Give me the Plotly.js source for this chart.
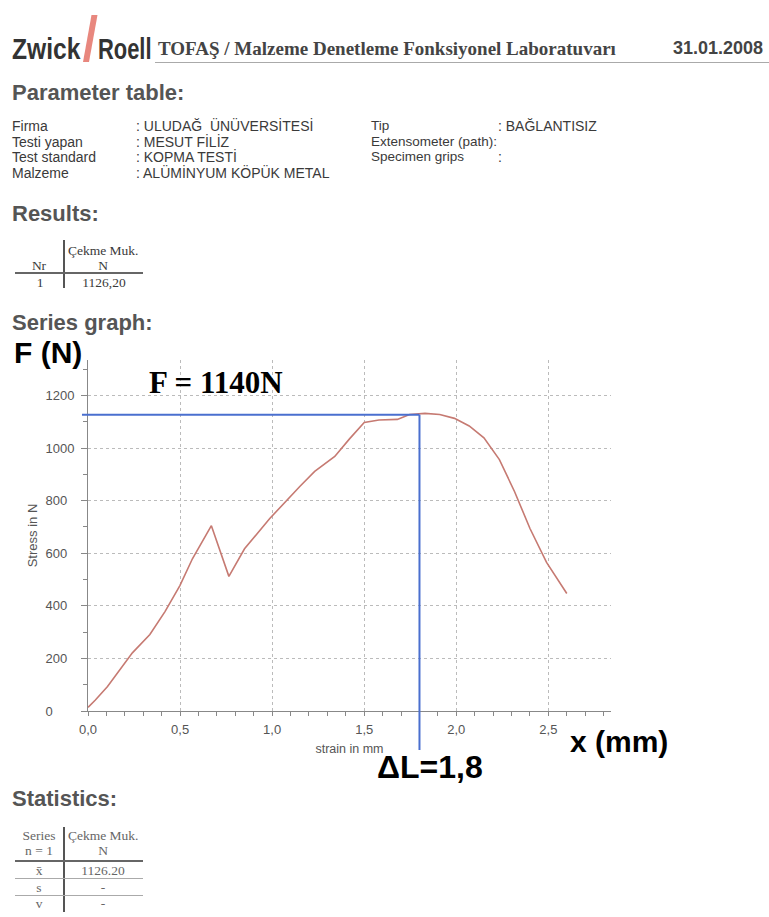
<!DOCTYPE html>
<html>
<head>
<meta charset="utf-8">
<script src="https://cdn.plot.ly/plotly-3.0.1.min.js"></script>
<style>
  html, body { margin:0; padding:0; background:#fff; }
  body { width:769px; height:917px; position:relative; overflow:hidden; }
  #chart { position:absolute; left:0; top:0; width:769px; height:917px; }
  .t { position:absolute; white-space:nowrap; }
  .sans { font-family:"Liberation Sans", Arial, sans-serif; }
  .serif { font-family:"Liberation Serif", "Times New Roman", serif; }
  .h { font-family:"Liberation Sans", Arial, sans-serif; font-weight:bold; font-size:22px; line-height:22px; color:#555; }
  .p { font-family:"Liberation Sans", Arial, sans-serif; font-size:14px; line-height:14px; color:#3a3a3a; }
  .p2 { font-family:"Liberation Sans", Arial, sans-serif; font-size:13.5px; line-height:14px; color:#3a3a3a; }
  .tb { font-family:"Liberation Serif", "Times New Roman", serif; font-size:13.5px; line-height:13.5px; color:#3a3a3a; }
  .st { font-family:"Liberation Serif", "Times New Roman", serif; font-size:13.5px; line-height:13.5px; color:#666; }
  .c { transform:translateX(-50%); }
  .ln { position:absolute; }
</style>
</head>
<body>
<div id="chart"></div>

<!-- Header -->
<div class="t sans" style="left:12px;top:34px;font-size:30px;line-height:30px;font-weight:bold;color:#333;transform:scaleX(0.82);transform-origin:left top;">Zwick</div>
<svg style="position:absolute;left:0;top:0;" width="120" height="70"><polygon points="83,62 89,62 97.5,15 91.5,15" fill="#e8877e"/></svg>
<div class="t sans" style="left:98px;top:34px;font-size:30px;line-height:30px;font-weight:bold;color:#333;transform:scaleX(0.73);transform-origin:left top;">Roell</div>
<div class="t serif" style="left:158px;top:39px;font-size:19px;line-height:19px;font-weight:bold;color:#444;">TOFAŞ / Malzeme Denetleme Fonksiyonel Laboratuvarı</div>
<div class="t sans" style="right:6px;top:39px;font-size:18px;line-height:18px;font-weight:bold;color:#444;">31.01.2008</div>
<div class="ln" style="left:155px;top:62px;width:614px;height:1px;background:#aaa;"></div>

<div class="t h" style="left:12px;top:82px;">Parameter table:</div>

<div class="t p" style="left:12px;top:119px;">Firma</div>
<div class="t p" style="left:12px;top:134.5px;">Testi yapan</div>
<div class="t p" style="left:12px;top:150px;">Test standard</div>
<div class="t p" style="left:12px;top:165.5px;">Malzeme</div>
<div class="t p" style="left:136px;top:119px;">: ULUDAĞ&nbsp; ÜNÜVERSİTESİ</div>
<div class="t p" style="left:136px;top:134.5px;">: MESUT FİLİZ</div>
<div class="t p" style="left:136px;top:150px;">: KOPMA TESTİ</div>
<div class="t p" style="left:136px;top:165.5px;">: ALÜMİNYUM KÖPÜK METAL</div>
<div class="t p2" style="left:371px;top:119px;">Tip</div>
<div class="t p2" style="left:371px;top:134.5px;">Extensometer (path):</div>
<div class="t p2" style="left:371px;top:150px;">Specimen grips</div>
<div class="t p" style="left:498px;top:119px;">: BAĞLANTISIZ</div>
<div class="t p" style="left:498px;top:150px;">:</div>

<div class="t h" style="left:12px;top:203px;">Results:</div>
<div class="ln" style="left:63px;top:240px;width:1.5px;height:48px;background:#555;"></div>
<div class="ln" style="left:15px;top:272px;width:128px;height:2px;background:#666;"></div>
<div class="t tb" style="left:68px;top:244px;">Çekme Muk.</div>
<div class="t tb c" style="left:39px;top:259px;">Nr</div>
<div class="t tb c" style="left:103px;top:259px;">N</div>
<div class="t tb c" style="left:40px;top:276px;">1</div>
<div class="t tb c" style="left:104px;top:276px;">1126,20</div>

<div class="t h" style="left:12px;top:312px;">Series graph:</div>

<div class="t h" style="left:12px;top:788px;">Statistics:</div>
<div class="ln" style="left:63px;top:827px;width:1.5px;height:85px;background:#555;"></div>
<div class="ln" style="left:15px;top:860px;width:128px;height:2px;background:#666;"></div>
<div class="ln" style="left:15px;top:878px;width:128px;height:1px;background:#aaa;"></div>
<div class="ln" style="left:15px;top:895px;width:128px;height:1px;background:#aaa;"></div>
<div class="t st c" style="left:39px;top:829px;">Series</div>
<div class="t st" style="left:68px;top:829px;">Çekme Muk.</div>
<div class="t st c" style="left:39px;top:844px;">n = 1</div>
<div class="t st c" style="left:103px;top:844px;">N</div>
<div class="t st c" style="left:39px;top:864px;">x̄</div>
<div class="t st c" style="left:103px;top:864px;">1126.20</div>
<div class="t st c" style="left:39px;top:881px;">s</div>
<div class="t st c" style="left:103px;top:881px;">-</div>
<div class="t st c" style="left:39px;top:897px;">v</div>
<div class="t st c" style="left:103px;top:897px;">-</div>

<script>
// ---- Data ----
const strainMm = [0.00, 0.04, 0.106, 0.187, 0.241, 0.336, 0.418, 0.499, 0.567, 0.67, 0.765, 0.85, 0.987, 1.15, 1.231, 1.34, 1.42, 1.50, 1.58, 1.68, 1.746, 1.83, 1.91, 1.99, 2.07, 2.15, 2.234, 2.316, 2.40, 2.49, 2.545, 2.60];
const forceN   = [14, 42, 93, 170, 221, 291, 378, 477, 579, 705, 512, 617, 732, 854, 911, 968, 1035, 1097, 1107, 1109, 1128, 1132, 1128, 1113, 1084, 1039, 956, 835, 694, 565, 505, 447];

const xTickVals = [0, 0.5, 1.0, 1.5, 2.0, 2.5];
const yTickVals = [0, 200, 400, 600, 800, 1000, 1200];
const yTickText = ['0', '200', '400', '600', '800', '1000', '1200'];

const peakStrain = 1.80;   // ΔL marker
const peakForce  = 1127;   // F marker

const xRange = [0, 2.84];
const yRange = [0, 1335];

// paper-coordinate helpers through the axis ranges
const px = v => (v - xRange[0]) / (xRange[1] - xRange[0]);
const py = v => (v - yRange[0]) / (yRange[1] - yRange[0]);

// left-align y tick labels using figure spaces
const yTickTextAligned = yTickText.map(s => s + '\u2007'.repeat(4 - s.length));

const sans = '"Liberation Sans", Arial, sans-serif';
const serif = '"Liberation Serif", "Times New Roman", serif';
const blue = '#4a6fcf';

const trace = {
  x: strainMm, y: forceN, type: 'scatter', mode: 'lines',
  line: { color: '#c67a72', width: 1.6 },
  hoverinfo: 'skip', showlegend: false
};

const layout = {
  width: 769, height: 917,
  margin: { l: 88, r: 158, t: 360, b: 206, pad: 0 },
  paper_bgcolor: 'rgba(0,0,0,0)', plot_bgcolor: 'rgba(0,0,0,0)',
  separators: ',.',
  showlegend: false,
  font: { family: sans, color: '#555', size: 13 },
  xaxis: {
    range: xRange, tickvals: xTickVals, tickformat: '.1f',
    ticks: 'outside', ticklen: 4, tickcolor: '#888', tickwidth: 1,
    minor: { dtick: 0.1, ticks: 'outside', ticklen: 4, tickcolor: '#888', showgrid: false },
    showline: true, linecolor: '#888', linewidth: 1,
    showgrid: true, gridcolor: '#bbb', griddash: 'dot', gridwidth: 1,
    zeroline: false, ticklabelstandoff: 2,
    tickfont: { family: sans, size: 13, color: '#555' },
    title: { text: 'strain in mm', font: { family: sans, size: 12.5, color: '#555' }, standoff: 8 },
    automargin: false
  },
  xaxis2: {
    overlaying: 'x', anchor: 'y', range: xRange, dtick: 0.1, tick0: 0,
    ticks: 'inside', ticklen: 4, tickcolor: '#888',
    showticklabels: false, showgrid: false, showline: false, zeroline: false
  },
  yaxis: {
    range: yRange, tickvals: yTickVals, ticktext: yTickTextAligned,
    ticks: 'outside', ticklen: 6, tickcolor: '#888', tickwidth: 1,
    minor: { dtick: 100, ticks: 'outside', ticklen: 4, tickcolor: '#888', showgrid: false },
    showline: true, linecolor: '#888', linewidth: 1,
    showgrid: true, gridcolor: '#bbb', griddash: 'dot', gridwidth: 1,
    zeroline: false, ticklabelstandoff: 4,
    tickfont: { family: sans, size: 13, color: '#555' },
    title: { text: 'Stress in N', font: { family: sans, size: 13, color: '#555' }, standoff: 4 },
    automargin: false
  },
  yaxis2: {
    overlaying: 'y', anchor: 'x', range: yRange, dtick: 100, tick0: 0,
    ticks: 'inside', ticklen: 4, tickcolor: '#888',
    showticklabels: false, showgrid: false, showline: false, zeroline: false
  },
  shapes: [
    { type: 'line', xref: 'paper', yref: 'paper',
      x0: -0.0115, x1: px(peakStrain), y0: py(peakForce), y1: py(peakForce),
      line: { color: blue, width: 2 } },
    { type: 'line', xref: 'paper', yref: 'paper',
      x0: px(peakStrain), x1: px(peakStrain), y0: py(peakForce), y1: -0.111,
      line: { color: blue, width: 2 } }
  ],
  annotations: [
    { text: 'F (N)', xref: 'paper', yref: 'paper', x: -0.1453, y: 1.021,
      xanchor: 'left', yanchor: 'middle', showarrow: false,
      font: { family: sans, size: 30, color: '#000', weight: 'bold' } },
    { text: 'F = 1140N', xref: 'paper', yref: 'paper', x: 0.1128, y: 0.937,
      xanchor: 'left', yanchor: 'middle', showarrow: false,
      font: { family: serif, size: 31, color: '#000', weight: 'bold' } },
    { text: 'ΔL=1,8', xref: 'paper', yref: 'paper', x: 0.654, y: -0.1595,
      xanchor: 'center', yanchor: 'middle', showarrow: false,
      font: { family: sans, size: 32, color: '#000', weight: 'bold' } },
    { text: 'x (mm)', xref: 'paper', yref: 'paper', x: 1.0153, y: -0.088,
      xanchor: 'center', yanchor: 'middle', showarrow: false,
      font: { family: sans, size: 30, color: '#000', weight: 'bold' } }
  ]
};

Plotly.newPlot('chart', [trace], layout, { staticPlot: true, displayModeBar: false });
</script>
</body>
</html>
